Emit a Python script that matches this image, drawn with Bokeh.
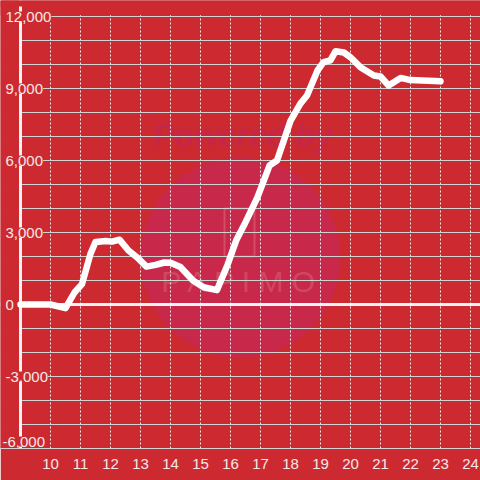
from bokeh.plotting import figure
from bokeh.models import (FixedTicker, Span, LabelSet, Label, ColumnDataSource,
                          BoxAnnotation)
from bokeh.core.properties import value
from bokeh.embed import file_html
from bokeh.resources import INLINE

# ---- data ----
hours = [9, 10, 10.5, 10.8, 11.05, 11.33, 11.5, 11.85, 12.05, 12.3, 12.6, 12.9,
         13.2, 13.5, 13.8, 14.0, 14.33, 14.75, 15.1, 15.55, 15.9, 16.2, 16.45,
         16.9, 17.3, 17.55, 18.0, 18.33, 18.55, 18.9, 19.1, 19.33, 19.5, 19.78,
         20.0, 20.33, 20.78, 21.0, 21.27, 21.67, 22.0, 23.0]
values = [0, 0, -150, 500, 850, 2100, 2600, 2650, 2620, 2700, 2250, 1950,
          1580, 1650, 1750, 1740, 1560, 1000, 720, 600, 1650, 2700, 3300,
          4470, 5790, 6000, 7650, 8370, 8710, 9750, 10100, 10170, 10550, 10500,
          10300, 9890, 9540, 9500, 9125, 9440, 9350, 9300]

x_ticks = [10, 11, 12, 13, 14, 15, 16, 17, 18, 19, 20, 21, 22, 23, 24]
y_label_values = [12000, 9000, 6000, 3000, 0, -3000]
y_label_texts = ["12,000", "9,000", "6,000", "3,000", "0", "-3,000"]
y_bottom_value = -6000
y_bottom_text = "-6,000"
y_grid_values = [-6000, -5000, -4000, -3000, -2000, -1000, 0, 1000, 2000, 3000,
                 4000, 5000, 6000, 7000, 8000, 9000, 10000, 11000, 12000]

X_AXIS_AT = 9          # where the y axis line sits (first hour)
Y_MIN, Y_MAX = -6000, 12000

BG = "#cc2a30"
LABEL = "#f4e8e8"
FONT = "Liberation Sans"

# pixel scales: 30 px per hour, 24 px per 1000
PX_X = 1 / 30
PX_Y = 1000 / 24

p = figure(width=480, height=480, output_backend="svg", toolbar_location=None,
           x_range=(X_AXIS_AT - 20 * PX_X, X_AXIS_AT + 460 * PX_X),
           y_range=(Y_MIN, Y_MAX + 16 * PX_Y),
           y_axis_location=None,
           min_border_left=0, min_border_right=0, min_border_top=0,
           min_border_bottom=32)
p.background_fill_color = BG
p.border_fill_color = BG
p.outline_line_color = None

# watermark (decoration)
p.circle(x=16.33, y=1960, radius=3.333, fill_color="#c8284a", line_color=None,
         level="image")
p.rect(x=16.3, y=3000, width=1.0, height=2000, fill_color=None,
       line_color="#d4566c", line_width=2, line_alpha=0.8, level="image")
p.add_layout(Label(x=16.4, y=7080, text="Powered by", text_align="center",
                   text_baseline="middle", text_font=FONT,
                   text_font_style="bold italic", text_font_size="32px",
                   text_color="#c52649", level="image"))
p.add_layout(Label(x=16.33, y=960, text="P A P I M O", text_align="center",
                   text_baseline="middle", text_font=FONT,
                   text_font_size="30px", text_color="#d65268",
                   text_alpha=0.75, level="image"))

# grids
p.xgrid.ticker = FixedTicker(ticks=x_ticks)
p.xgrid.grid_line_color = "#ececec"
p.xgrid.grid_line_dash = "2 2"
p.xgrid.grid_line_width = 1
p.ygrid.ticker = FixedTicker(ticks=y_grid_values)
p.ygrid.grid_line_color = "#d2d2d2"
p.ygrid.grid_line_width = 1

# x axis
p.xaxis.ticker = FixedTicker(ticks=x_ticks)
p.xaxis.axis_line_color = "#d2d2d2"
p.xaxis.major_tick_line_color = None
p.xaxis.minor_tick_line_color = None
p.xaxis.major_label_text_font = FONT
p.xaxis.major_label_text_font_size = "15px"
p.xaxis.major_label_text_color = LABEL
p.xaxis.major_label_standoff = 4

# zero line
p.add_layout(Span(location=0, dimension="width", line_color="#f4f4f4",
                  line_width=3, level="underlay"))
# hide grid left of the y axis and above the top tick
p.add_layout(BoxAnnotation(right=X_AXIS_AT, fill_color=BG, fill_alpha=1,
                           line_color=None, level="underlay"))
p.add_layout(BoxAnnotation(bottom=Y_MAX + 1.2 * PX_Y, fill_color=BG,
                           fill_alpha=1, line_color=None, level="underlay"))
# y axis line
p.add_layout(Span(location=X_AXIS_AT, dimension="height", line_color="#f4f4f4",
                  line_width=3, level="underlay"))
p.add_layout(BoxAnnotation(bottom=Y_MAX + 10 * PX_Y, fill_color=BG,
                           fill_alpha=1, line_color=None, level="underlay"))

p.line(hours, values, line_color="white", line_width=6.5, line_join="round",
       line_cap="round")

X_LAB = X_AXIS_AT - 20 * PX_X
ysrc = ColumnDataSource(dict(x=[X_LAB] * len(y_label_values), y=y_label_values,
                             t=y_label_texts))
p.add_layout(LabelSet(x="x", y="y", text="t", source=ysrc, x_offset=5,
                      text_align="left", text_baseline="middle",
                      text_font=value(FONT), text_font_size=value("15px"),
                      text_color=LABEL, background_fill_color=BG))
p.add_layout(Label(x=X_LAB, y=y_bottom_value, text=y_bottom_text, x_offset=2,
                   y_offset=7, text_align="left", text_baseline="middle",
                   text_font=FONT, text_font_size="15px", text_color=LABEL,
                   background_fill_color=BG))

open("out.html", "w").write(file_html(p, INLINE))
